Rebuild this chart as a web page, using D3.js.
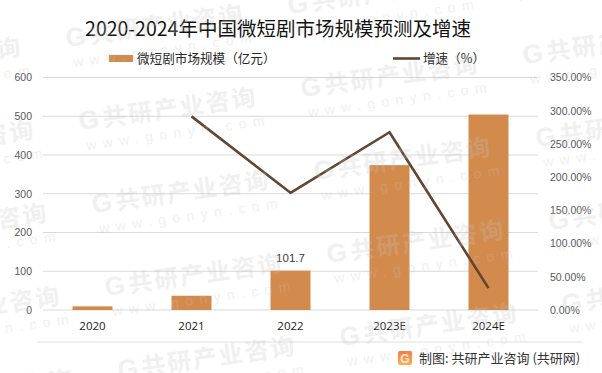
<!DOCTYPE HTML>
<html lang="zh">
<head>
<meta charset="UTF-8">
<title>2020-2024年中国微短剧市场规模预测及增速</title>
<script src="https://d3js.org/d3.v7.min.js"></script>
<style>
    body { margin: 0; background: #fff; }
    svg { display: block; }
</style>
</head>
<body>
<svg width="602" height="373"></svg>
<script>
    // data
    var years = ["2020", "2021", "2022", "2023E", "2024E"];
    var marketSize = [9.4, 36.8, 101.7, 373.9, 504.4];      // 亿元
    var growthRate = [null, 291.5, 176.4, 267.6, 33.0];     // %
    var leftTicks = [0, 100, 200, 300, 400, 500, 600];
    var rightTicks = [0, 50, 100, 150, 200, 250, 300, 350];
    var labelledYear = "2022";

    var svg = d3.select("svg");
    var width = +svg.attr("width");
    var height = +svg.attr("height");
    var plot = {left: 43, right: 538, top: 77.5, bottom: 310};

    var barColor = "#D38B4D";
    var lineColor = "#634530";
    var numFont = "'Liberation Sans', Arial, sans-serif";
    var cjkFont = "'Noto Sans CJK SC', 'Noto Sans', sans-serif";

    svg.append("rect").attr("width", width).attr("height", height).attr("fill", "#fff");

    var xScale = d3.scaleBand()
        .domain(years)
        .range([plot.left, plot.right])
        .paddingInner(0.596)
        .paddingOuter(0.298);

    var yLeft = d3.scaleLinear().domain([0, 600]).range([plot.bottom, plot.top]);
    var yRight = d3.scaleLinear().domain([0, 350]).range([plot.bottom, plot.top]);

    // gridlines
    svg.append("g")
        .selectAll("line")
        .data(leftTicks)
        .enter().append("line")
        .attr("x1", plot.left).attr("x2", plot.right)
        .attr("y1", function(d) { return yLeft(d); })
        .attr("y2", function(d) { return yLeft(d); })
        .attr("stroke", "#d9d9d9")
        .attr("stroke-width", 1);

    // left axis
    var leftAxis = svg.append("g")
        .attr("transform", "translate(" + plot.left + ",0)")
        .call(d3.axisLeft(yLeft).tickValues(leftTicks).tickSize(0).tickPadding(11));
    leftAxis.select(".domain").remove();
    leftAxis.selectAll("text")
        .attr("font-family", numFont).attr("font-size", "10.5px").attr("fill", "#595959");

    // right axis
    var rightAxis = svg.append("g")
        .attr("transform", "translate(" + plot.right + ",0)")
        .call(d3.axisRight(yRight).tickValues(rightTicks).tickSize(0).tickPadding(12)
            .tickFormat(function(d) { return d.toFixed(2) + "%"; }));
    rightAxis.select(".domain").remove();
    rightAxis.selectAll("text")
        .attr("font-family", numFont).attr("font-size", "10.5px").attr("fill", "#595959");

    // bars
    svg.append("g")
        .selectAll("rect")
        .data(years)
        .enter().append("rect")
        .attr("x", function(d) { return xScale(d); })
        .attr("y", function(d, i) { return yLeft(marketSize[i]); })
        .attr("width", xScale.bandwidth())
        .attr("height", function(d, i) { return yLeft(0) - yLeft(marketSize[i]); })
        .attr("fill", barColor);

    // x axis labels
    var xAxis = svg.append("g")
        .attr("transform", "translate(0," + plot.bottom + ")")
        .call(d3.axisBottom(xScale).tickSize(0).tickPadding(12));
    xAxis.select(".domain").remove();
    xAxis.selectAll("text")
        .attr("font-family", "'Open Sans', sans-serif").attr("font-size", "11.5px").attr("fill", "#1a1a1a");

    // data label
    var li = years.indexOf(labelledYear);
    svg.append("text")
        .attr("x", xScale(labelledYear) + xScale.bandwidth() / 2)
        .attr("y", yLeft(marketSize[li]) - 9)
        .attr("text-anchor", "middle")
        .attr("font-family", numFont).attr("font-size", "11.5px").attr("fill", "#404040")
        .text(marketSize[li]);

    // growth line
    var lineData = years.map(function(d, i) { return {year: d, v: growthRate[i]}; })
        .filter(function(d) { return d.v !== null; });
    svg.append("path")
        .datum(lineData)
        .attr("fill", "none")
        .attr("stroke", lineColor)
        .attr("stroke-width", 2.6)
        .attr("stroke-linejoin", "round")
        .attr("d", d3.line()
            .x(function(d) { return xScale(d.year) + xScale.bandwidth() / 2; })
            .y(function(d) { return yRight(d.v); }));

    // title
    svg.append("text")
        .attr("x", 278).attr("y", 36)
        .attr("text-anchor", "middle")
        .attr("font-family", cjkFont).attr("font-size", "19.5px").attr("fill", "#111")
        .text("2020-2024年中国微短剧市场规模预测及增速");

    // legend
    svg.append("rect").attr("x", 109).attr("y", 55).attr("width", 24).attr("height", 7).attr("fill", barColor);
    svg.append("text").attr("x", 137).attr("y", 63)
        .attr("font-family", cjkFont).attr("font-size", "12.6px").attr("fill", "#262626")
        .text("微短剧市场规模（亿元）");
    svg.append("line").attr("x1", 393).attr("x2", 420).attr("y1", 58.5).attr("y2", 58.5)
        .attr("stroke", lineColor).attr("stroke-width", 2.6);
    svg.append("text").attr("x", 423).attr("y", 63)
        .attr("font-family", cjkFont).attr("font-size", "12.6px").attr("fill", "#262626")
        .text("增速（%）");

    // footer
    svg.append("line").attr("x1", 37).attr("x2", 583).attr("y1", 342).attr("y2", 342)
        .attr("stroke", "#e0e0e0").attr("stroke-width", 1);
    var grad = svg.append("defs").append("linearGradient").attr("id", "logoGrad")
        .attr("x1", "0").attr("y1", "0").attr("x2", "0").attr("y2", "1");
    grad.append("stop").attr("offset", "0").attr("stop-color", "#f47a45");
    grad.append("stop").attr("offset", "1").attr("stop-color", "#f9b24e");
    svg.append("rect").attr("x", 398).attr("y", 351).attr("width", 14).attr("height", 14).attr("rx", 2)
        .attr("fill", "url(#logoGrad)");
    svg.append("text").attr("x", 405).attr("y", 362.5).attr("text-anchor", "middle")
        .attr("font-family", numFont).attr("font-weight", "bold").attr("font-size", "12px").attr("fill", "#fde7cf")
        .text("G");
    svg.append("text").attr("x", 419).attr("y", 362.5)
        .attr("font-family", cjkFont).attr("font-size", "13px").attr("fill", "#333")
        .text("制图: 共研产业咨询 (共研网)");

    // faint watermark lattice over the whole picture
    var wm = svg.append("g").attr("pointer-events", "none");
    for (var i = -1; i <= 2; i++) {
        for (var j = -1; j <= 3; j++) {
            var wx = 80 + 222 * i + 13 * j;
            var wy = 130 - 33 * i + 83 * j;
            var grp = wm.append("g").attr("transform", "translate(" + wx + "," + wy + ") rotate(-8)")
                .attr("fill", "#c4c4c4").attr("opacity", 0.25);
            grp.append("text").attr("x", 0).attr("y", 0)
                .attr("font-family", numFont).attr("font-weight", "bold").attr("font-size", "26px")
                .text("G");
            grp.append("text").attr("x", 24).attr("y", 0)
                .attr("font-family", cjkFont).attr("font-weight", "bold").attr("font-size", "24px")
                .attr("letter-spacing", "2px")
                .text("共研产业咨询");
            grp.append("text").attr("x", 4).attr("y", 21)
                .attr("font-family", numFont).attr("font-size", "14px")
                .attr("letter-spacing", "6.5px")
                .text("www.gonyn.com");
        }
    }
</script>
</body>
</html>
